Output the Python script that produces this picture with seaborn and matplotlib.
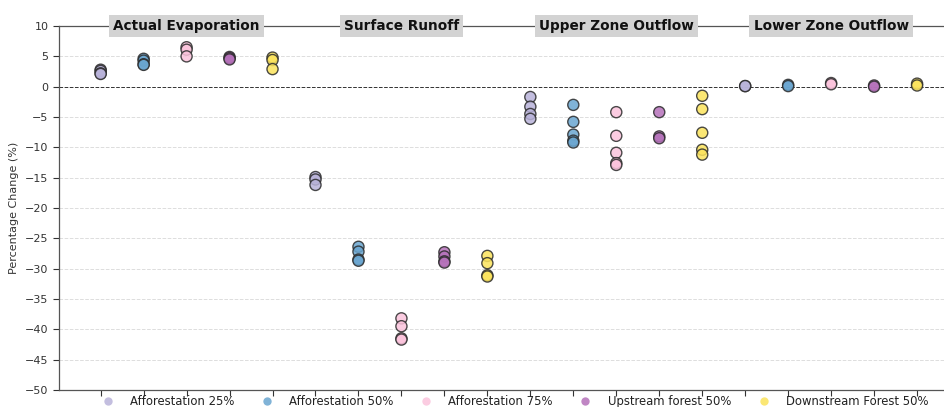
import numpy as np
import pandas as pd
import matplotlib
matplotlib.use("Agg")
import matplotlib.pyplot as plt
import seaborn as sns
from matplotlib.lines import Line2D

# Variables (groups) and land-use scenarios
variables = ["Actual Evaporation", "Surface Runoff", "Upper Zone Outflow", "Lower Zone Outflow"]
scenarios = ["Afforestation 25%", "Afforestation 50%", "Afforestation 75%",
             "Upstream forest 50%", "Downstream Forest 50%"]
colors = ["#b9b3da", "#6aa6d0", "#fbc3dc", "#b571ba", "#fbe35c"]

# Percentage change per variable and scenario (one value per sub-basin)
evap_a25 = [2.8, 2.6, 2.2, 2.1]
evap_a50 = [4.6, 4.3, 3.7, 3.6]
evap_a75 = [6.5, 6.1, 5.0]
evap_up = [4.9, 4.7, 4.5]
evap_down = [4.8, 4.4, 2.9]

runoff_a25 = [-14.9, -15.3, -16.2]
runoff_a50 = [-26.4, -27.2, -28.5, -28.7]
runoff_a75 = [-38.2, -39.5, -41.5, -41.7]
runoff_up = [-27.3, -28.0, -28.8, -29.0]
runoff_down = [-27.9, -29.1, -31.1, -31.3]

upper_a25 = [-1.7, -3.3, -4.5, -5.3]
upper_a50 = [-3.0, -5.8, -7.9, -8.9, -9.2]
upper_a75 = [-4.2, -8.1, -10.9, -12.6, -12.9]
upper_up = [-4.2, -8.2, -8.5]
upper_down = [-1.5, -3.7, -7.6, -10.4, -11.2]

lower_a25 = [0.1, 0.1]
lower_a50 = [0.3, 0.1]
lower_a75 = [0.6, 0.4]
lower_up = [0.2, 0.0]
lower_down = [0.5, 0.2]

values = {
    "Actual Evaporation": [evap_a25, evap_a50, evap_a75, evap_up, evap_down],
    "Surface Runoff": [runoff_a25, runoff_a50, runoff_a75, runoff_up, runoff_down],
    "Upper Zone Outflow": [upper_a25, upper_a50, upper_a75, upper_up, upper_down],
    "Lower Zone Outflow": [lower_a25, lower_a50, lower_a75, lower_up, lower_down],
}

rows = []
order = []
for var in variables:
    for scen, vals in zip(scenarios, values[var]):
        key = f"{var} | {scen}"
        order.append(key)
        for v in vals:
            rows.append({"slot": key, "Scenario": scen, "Change": v})
df = pd.DataFrame(rows)

sns.set_style("white")
plt.rcParams["font.family"] = ["DejaVu Sans"]

fig = plt.figure(figsize=(9.45, 4.07), dpi=100)
ax = fig.add_axes([0.0624, 0.042, 0.9376, 0.894])

ax.axhline(0, color="#333333", linestyle="--", linewidth=0.7, zorder=1)
sns.stripplot(data=df, x="slot", y="Change", hue="Scenario", order=order,
              hue_order=scenarios, palette=colors, jitter=False, dodge=False,
              size=8, linewidth=1.0, edgecolor="#2b2b2b", alpha=0.85,
              ax=ax, legend=False, zorder=3)

ax.set_ylim(-50, 10)
ax.set_yticks(np.arange(-50, 11, 5))
ax.set_xlim(-0.97, 19.65)
ax.set_xticks(range(len(order)))
ax.set_xticklabels([""] * len(order))
ax.set_xlabel("")
ax.set_ylabel("Percentage Change (%)", fontsize=8, color="#333333")
ax.tick_params(axis="both", labelsize=8, colors="#333333", length=4, width=0.8,
               direction="out", bottom=True, left=True)
ax.yaxis.grid(True, linestyle="--", color="#dddddd", linewidth=0.7)
ax.set_axisbelow(True)
for side in ["left", "bottom", "top"]:
    ax.spines[side].set_color("#555555")
    ax.spines[side].set_linewidth(0.9)
ax.spines["right"].set_visible(False)

# Group headers on the top spine
for i, var in enumerate(variables):
    ax.text(i * 5 + 2, 10, var, ha="center", va="center", fontsize=9.8,
            fontweight="bold", color="#111111", zorder=5,
            bbox=dict(facecolor="#d3d3d3", edgecolor="none", boxstyle="square,pad=0.3"))

handles = [Line2D([0], [0], marker="o", linestyle="", markersize=6,
                  markerfacecolor=c, markeredgecolor="none", alpha=0.85)
           for c in colors]
fig.legend(handles, scenarios, loc="center", bbox_to_anchor=(0.542, 0.013),
           ncol=5, frameon=False, fontsize=8.4, handletextpad=0.9,
           columnspacing=1.8, labelcolor="#222222")

fig.savefig("out.png", dpi=100)
